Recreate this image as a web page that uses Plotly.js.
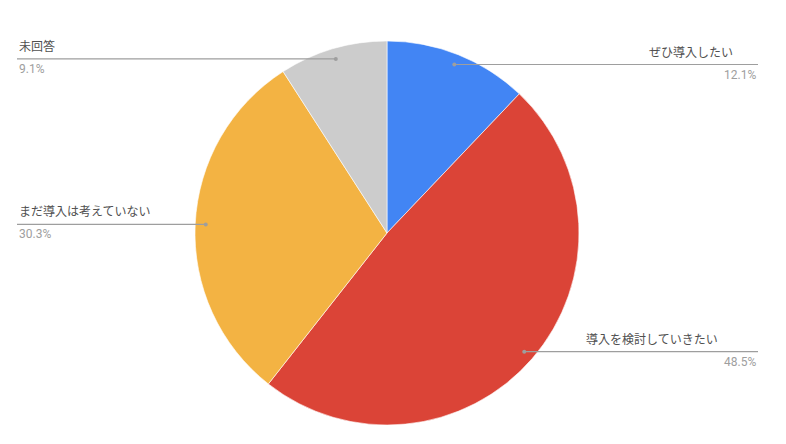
<!DOCTYPE html>
<html>
<head>
<meta charset="utf-8">
<script src="https://cdn.plot.ly/plotly-3.0.1.min.js"></script>
<style>
  html, body { margin: 0; padding: 0; background: #ffffff; }
  #chart { width: 786px; height: 444px; }
</style>
</head>
<body>
<div id="chart"></div>
<script>
// answers, clockwise from 12 o'clock
const labels = ['ぜひ導入したい', '導入を検討していきたい', 'まだ導入は考えていない', '未回答'];
const shares = [12.1, 48.5, 30.3, 9.1];
const colors = ['#4285F4', '#DB4437', '#F3B343', '#CCCCCC'];

const W = 786, H = 444;
const cx = 387, cy = 233, R = 192;   // pie centre / radius in px
const leftEdge = 17, rightEdge = 758;

const px = x => x / W;
const py = y => 1 - y / H;

function buildChart() {
    const total = shares.reduce((a, b) => a + b, 0);
    const shapes = [];
    const annotations = [];
    let acc = 0;

    shares.forEach((v, i) => {
        const mid = (acc + v / 2) / total * 2 * Math.PI;  // angle from top, clockwise
        acc += v;
        const dx = cx + 0.945 * R * Math.sin(mid);
        const dy = cy - 0.945 * R * Math.cos(mid);
        const right = dx >= cx;
        const endX = right ? rightEdge : leftEdge;

        shapes.push({
            type: 'line', xref: 'paper', yref: 'paper',
            x0: px(dx), y0: py(dy), x1: px(endX), y1: py(dy),
            line: { color: '#9e9e9e', width: 1.2 }
        });
        shapes.push({
            type: 'circle', xref: 'paper', yref: 'paper',
            x0: px(dx - 2), x1: px(dx + 2), y0: py(dy - 2), y1: py(dy + 2),
            fillcolor: '#9e9e9e', line: { width: 0 }
        });
        // the right-hand names sit a bit short of the line end, like the original
        const labelX = right ? endX - labels[i].length * 15.8 : endX;
        annotations.push({
            xref: 'paper', yref: 'paper', x: px(labelX), y: py(dy - 3),
            xanchor: 'left', yanchor: 'bottom',
            text: labels[i], showarrow: false,
            font: { family: 'Noto Sans CJK JP, Roboto, sans-serif', size: 12, color: '#505050' }
        });
        annotations.push({
            xref: 'paper', yref: 'paper', x: px(endX), y: py(dy + 1),
            xanchor: right ? 'right' : 'left', yanchor: 'top',
            text: v.toFixed(1) + '%', showarrow: false,
            font: { family: 'Roboto, sans-serif', size: 12, color: '#9e9e9e' }
        });
    });

    const data = [{
        type: 'pie',
        labels: labels,
        values: shares,
        sort: false,
        direction: 'clockwise',
        rotation: 0,
        marker: { colors: colors, line: { color: '#ffffff', width: 0.6 } },
        textinfo: 'none',
        hoverinfo: 'label+percent',
        domain: {
            x: [px(cx - R), px(cx + R)],
            y: [py(cy + R), py(cy - R)]
        }
    }];

    const layout = {
        width: W, height: H,
        margin: { l: 0, r: 0, t: 0, b: 0 },
        showlegend: false,
        paper_bgcolor: '#ffffff',
        shapes: shapes,
        annotations: annotations
    };

    Plotly.newPlot('chart', data, layout, { displayModeBar: false, staticPlot: true });
}

buildChart();
</script>
</body>
</html>
